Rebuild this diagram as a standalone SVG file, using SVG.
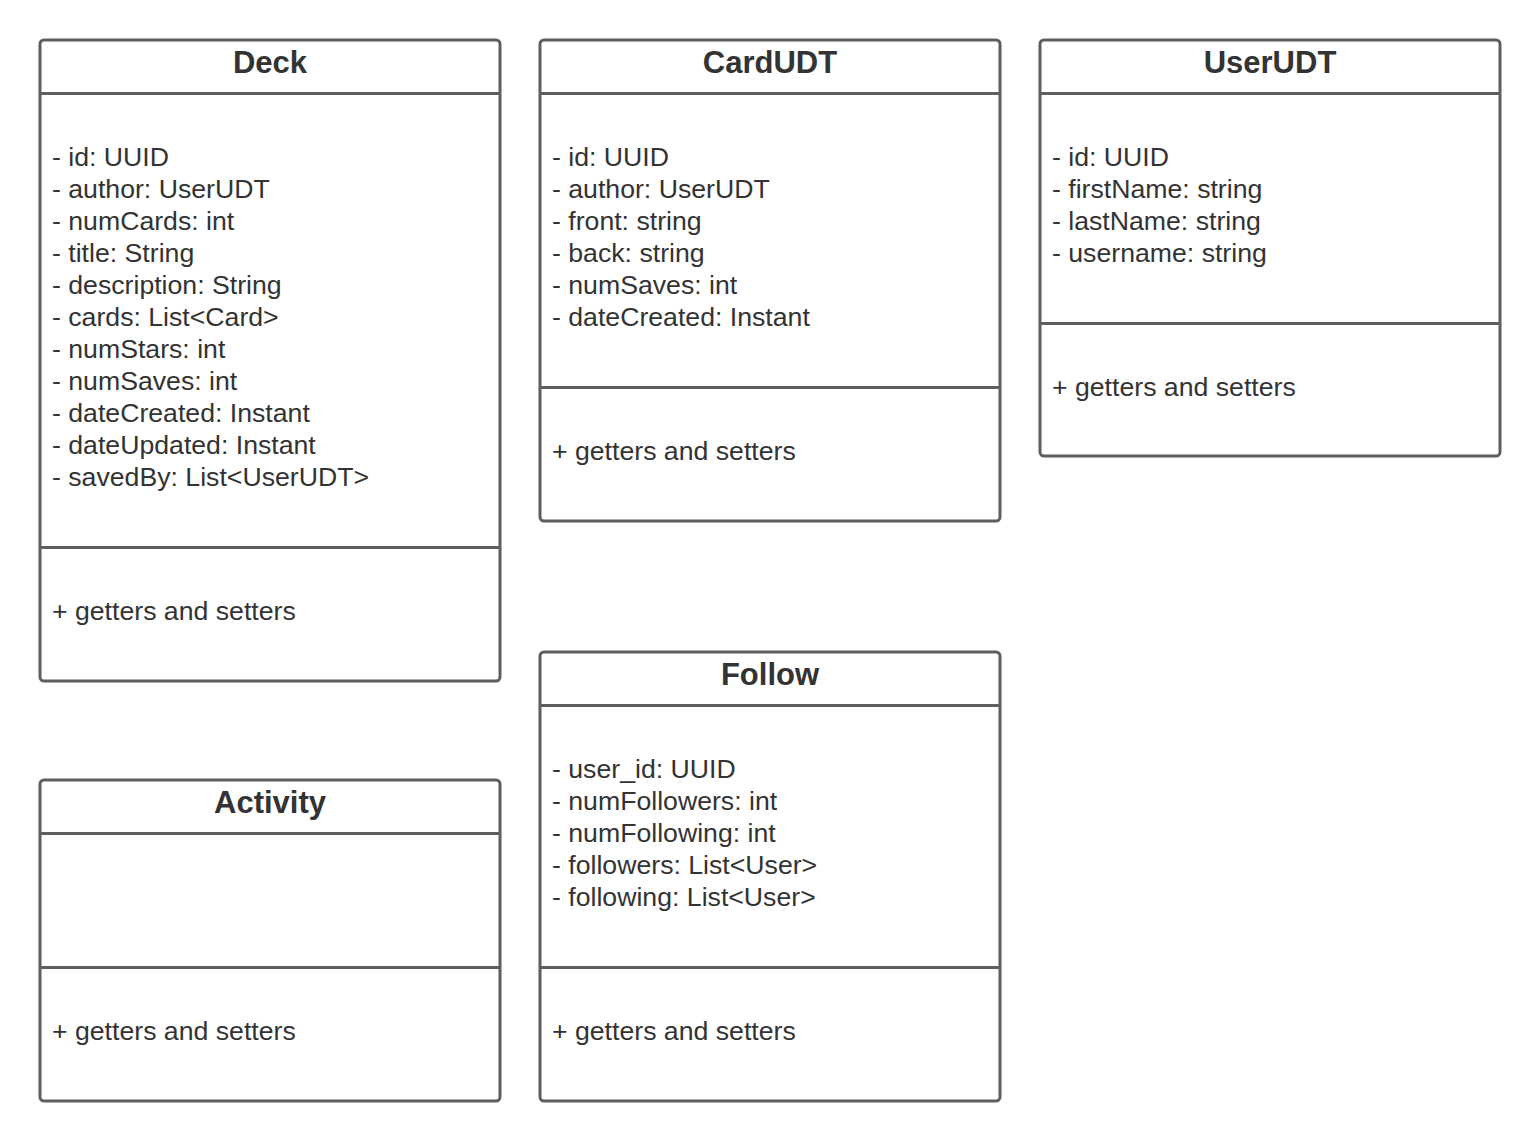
<svg xmlns="http://www.w3.org/2000/svg" width="1540" height="1141" viewBox="0 0 1540 1141">
<style>
.box{fill:#ffffff;stroke:#5e5e5e;stroke-width:3}
.div{stroke:#5e5e5e;stroke-width:3}
.t{font-family:"Liberation Sans",Arial,sans-serif;font-size:31px;font-weight:bold;fill:#333333;text-anchor:middle}
.a{font-family:"Liberation Sans",Arial,sans-serif;font-size:26.67px;fill:#333333}
</style>
<rect width="1540" height="1141" fill="#ffffff"/>
<g id="deck">
<rect class="box" x="40" y="40" width="460" height="641" rx="4"/>
<line class="div" x1="40" y1="93.5" x2="500" y2="93.5"/>
<line class="div" x1="40" y1="547.5" x2="500" y2="547.5"/>
<text class="t" x="270" y="73">Deck</text>
<text class="a" x="52" y="166">- id: UUID</text>
<text class="a" x="52" y="198">- author: UserUDT</text>
<text class="a" x="52" y="230">- numCards: int</text>
<text class="a" x="52" y="262">- title: String</text>
<text class="a" x="52" y="294">- description: String</text>
<text class="a" x="52" y="326">- cards: List&lt;Card&gt;</text>
<text class="a" x="52" y="358">- numStars: int</text>
<text class="a" x="52" y="390">- numSaves: int</text>
<text class="a" x="52" y="422">- dateCreated: Instant</text>
<text class="a" x="52" y="454">- dateUpdated: Instant</text>
<text class="a" x="52" y="486">- savedBy: List&lt;UserUDT&gt;</text>
<text class="a" x="52" y="620">+ getters and setters</text>
</g>
<g id="cardudt">
<rect class="box" x="540" y="40" width="460" height="481" rx="4"/>
<line class="div" x1="540" y1="93.5" x2="1000" y2="93.5"/>
<line class="div" x1="540" y1="387.5" x2="1000" y2="387.5"/>
<text class="t" x="770" y="73">CardUDT</text>
<text class="a" x="552" y="166">- id: UUID</text>
<text class="a" x="552" y="198">- author: UserUDT</text>
<text class="a" x="552" y="230">- front: string</text>
<text class="a" x="552" y="262">- back: string</text>
<text class="a" x="552" y="294">- numSaves: int</text>
<text class="a" x="552" y="326">- dateCreated: Instant</text>
<text class="a" x="552" y="460">+ getters and setters</text>
</g>
<g id="userudt">
<rect class="box" x="1040" y="40" width="460" height="416" rx="4"/>
<line class="div" x1="1040" y1="93.5" x2="1500" y2="93.5"/>
<line class="div" x1="1040" y1="323.5" x2="1500" y2="323.5"/>
<text class="t" x="1270" y="73">UserUDT</text>
<text class="a" x="1052" y="166">- id: UUID</text>
<text class="a" x="1052" y="198">- firstName: string</text>
<text class="a" x="1052" y="230">- lastName: string</text>
<text class="a" x="1052" y="262">- username: string</text>
<text class="a" x="1052" y="396">+ getters and setters</text>
</g>
<g id="activity">
<rect class="box" x="40" y="780" width="460" height="321" rx="4"/>
<line class="div" x1="40" y1="833.5" x2="500" y2="833.5"/>
<line class="div" x1="40" y1="967.5" x2="500" y2="967.5"/>
<text class="t" x="270" y="813">Activity</text>
<text class="a" x="52" y="1040">+ getters and setters</text>
</g>
<g id="follow">
<rect class="box" x="540" y="652" width="460" height="449" rx="4"/>
<line class="div" x1="540" y1="705.5" x2="1000" y2="705.5"/>
<line class="div" x1="540" y1="967.5" x2="1000" y2="967.5"/>
<text class="t" x="770" y="685">Follow</text>
<text class="a" x="552" y="778">- user_id: UUID</text>
<text class="a" x="552" y="810">- numFollowers: int</text>
<text class="a" x="552" y="842">- numFollowing: int</text>
<text class="a" x="552" y="874">- followers: List&lt;User&gt;</text>
<text class="a" x="552" y="906">- following: List&lt;User&gt;</text>
<text class="a" x="552" y="1040">+ getters and setters</text>
</g>
<g id="connectors"></g>
</svg>
